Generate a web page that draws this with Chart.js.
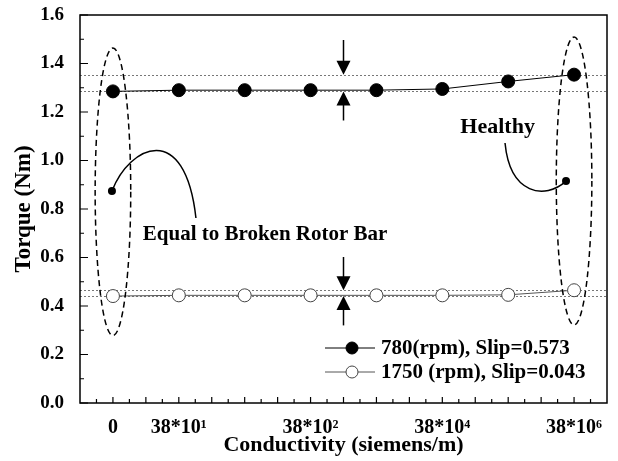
<!DOCTYPE html>
<html>
<head>
<meta charset="utf-8">
<script src="https://cdn.jsdelivr.net/npm/chart.js@4.4.0/dist/chart.umd.min.js"></script>
<style>
  html, body { margin: 0; padding: 0; background: #fff; }
  #wrap { width: 618px; height: 461px; }
</style>
</head>
<body>
<div id="wrap"><canvas id="torque"></canvas></div>
<script>
// values
const conductivityLabels = ['0', '38*10¹', '', '38*10²', '', '38*10⁴', '', '38*10⁶'];
const torque780 = [1.285, 1.29, 1.29, 1.29, 1.29, 1.295, 1.326, 1.354];
const torque1750 = [0.441, 0.444, 0.444, 0.444, 0.444, 0.444, 0.446, 0.465];
const seriesNames = ['780(rpm), Slip=0.573', '1750 (rpm), Slip=0.043'];

// dotted limit lines (torque values)
const bandLevels = [1.285, 1.354, 0.441, 0.465];

// annotation geometry in axis units (x = category index, y = torque)
const ellipses = [
  { x: 0, top: 1.464, bottom: 0.278, half: 0.27 },
  { x: 7, top: 1.509, bottom: 0.322, half: 0.27 }
];
const arrows = [
  { x: 3.5, from: 1.497, to: 1.354 },
  { x: 3.5, from: 1.165, to: 1.285 },
  { x: 3.5, from: 0.602, to: 0.465 },
  { x: 3.5, from: 0.320, to: 0.441 }
];
const callouts = [
  { text: 'Equal to Broken Rotor Bar', size: 21, at: [2.31, 0.693],
    curve: [[-0.015, 0.874], [0.258, 1.064], [1.093, 1.167], [1.26, 0.763]] },
  { text: 'Healthy', size: 22, at: [5.84, 1.138],
    curve: [[6.878, 0.915], [6.56, 0.837], [6.028, 0.858], [5.952, 1.072]] }
];

const serif = "'Liberation Serif', 'Times New Roman', serif";

const decorations = {
  id: 'decorations',
  beforeDatasetsDraw(chart) {
    const { ctx, chartArea: a, scales: { y } } = chart;
    ctx.save();
    ctx.strokeStyle = '#777';
    ctx.lineWidth = 1;
    ctx.setLineDash([2, 2]);
    bandLevels.forEach(v => {
      const py = Math.round(y.getPixelForValue(v)) + 0.5;
      ctx.beginPath();
      ctx.moveTo(a.left, py);
      ctx.lineTo(a.right, py);
      ctx.stroke();
    });
    ctx.restore();
  },
  afterDatasetsDraw(chart) {
    const { ctx, chartArea: a, scales: { x, y } } = chart;
    const px = v => x.getPixelForValue(v);
    const py = v => y.getPixelForValue(v);
    ctx.save();

    // dashed ellipses
    ctx.strokeStyle = '#000';
    ctx.lineWidth = 1.5;
    ctx.setLineDash([6, 4]);
    ellipses.forEach(e => {
      const cx = px(e.x), top = py(e.top), bot = py(e.bottom);
      const rx = Math.abs(px(e.x + e.half) - cx);
      ctx.beginPath();
      ctx.ellipse(cx, (top + bot) / 2, rx, (bot - top) / 2, 0, 0, Math.PI * 2);
      ctx.stroke();
    });
    ctx.setLineDash([]);

    // arrows
    ctx.fillStyle = '#000';
    arrows.forEach(ar => {
      const cx = px(ar.x), y0 = py(ar.from), y1 = py(ar.to);
      const dir = y1 > y0 ? 1 : -1;
      ctx.lineWidth = 1.5;
      ctx.beginPath();
      ctx.moveTo(cx, y0);
      ctx.lineTo(cx, y1 - dir * 12);
      ctx.stroke();
      ctx.beginPath();
      ctx.moveTo(cx, y1);
      ctx.lineTo(cx - 7, y1 - dir * 14);
      ctx.lineTo(cx + 7, y1 - dir * 14);
      ctx.closePath();
      ctx.fill();
    });

    // callouts
    ctx.textAlign = 'center';
    ctx.textBaseline = 'middle';
    callouts.forEach(c => {
      const p = c.curve.map(([cx, cy]) => [px(cx), py(cy)]);
      ctx.lineWidth = 1.5;
      ctx.beginPath();
      ctx.moveTo(p[0][0], p[0][1]);
      ctx.bezierCurveTo(p[1][0], p[1][1], p[2][0], p[2][1], p[3][0], p[3][1]);
      ctx.stroke();
      ctx.beginPath();
      ctx.arc(p[0][0], p[0][1], 4, 0, Math.PI * 2);
      ctx.fill();
      ctx.font = 'bold ' + c.size + 'px ' + serif;
      ctx.fillText(c.text, px(c.at[0]), py(c.at[1]));
    });

    // legend
    const lx = a.right - 282;
    const rows = [a.bottom - 55, a.bottom - 31];
    ctx.textAlign = 'left';
    ctx.font = 'bold 21px ' + serif;
    chart.data.datasets.forEach((ds, i) => {
      const ry = rows[i];
      ctx.strokeStyle = ds.borderColor;
      ctx.lineWidth = 1;
      ctx.beginPath();
      ctx.moveTo(lx, ry);
      ctx.lineTo(lx + 50, ry);
      ctx.stroke();
      ctx.beginPath();
      ctx.arc(lx + 27, ry, 6, 0, Math.PI * 2);
      ctx.fillStyle = ds.pointBackgroundColor;
      ctx.fill();
      ctx.strokeStyle = ds.pointBorderColor;
      ctx.stroke();
      ctx.fillStyle = '#000';
      ctx.fillText(ds.label, lx + 56, ry + 1);
    });

    // frame and inward ticks
    ctx.strokeStyle = '#000';
    ctx.lineWidth = 1.5;
    ctx.strokeRect(a.left, a.top, a.right - a.left, a.bottom - a.top);
    ctx.lineWidth = 1.2;
    ctx.beginPath();
    for (let i = 0; i <= 16; i++) {
      const ty = py(i * 0.1);
      const len = i % 2 === 0 ? 8 : 4;
      ctx.moveTo(a.left, ty);
      ctx.lineTo(a.left + len, ty);
    }
    for (let i = -2; i <= 30; i++) {
      const tx = px(i * 0.25);
      if (tx <= a.left + 1 || tx >= a.right - 1) continue;
      const len = i % 2 === 0 ? 6 : 4;
      ctx.moveTo(tx, a.bottom);
      ctx.lineTo(tx, a.bottom - len);
    }
    ctx.stroke();
    ctx.restore();
  }
};

new Chart(document.getElementById('torque'), {
  type: 'line',
  data: {
    labels: conductivityLabels,
    datasets: [
      {
        label: seriesNames[0],
        data: torque780,
        borderColor: '#000',
        borderWidth: 1,
        pointRadius: 6.5,
        pointBackgroundColor: '#000',
        pointBorderColor: '#000',
        pointBorderWidth: 1,
        tension: 0
      },
      {
        label: seriesNames[1],
        data: torque1750,
        borderColor: '#555',
        borderWidth: 1,
        pointRadius: 6.5,
        pointBackgroundColor: '#fff',
        pointBorderColor: '#444',
        pointBorderWidth: 1,
        tension: 0
      }
    ]
  },
  options: {
    responsive: true,
    maintainAspectRatio: false,
    animation: false,
    layout: { padding: { top: 15, right: 11, left: 0, bottom: 0 } },
    plugins: { legend: { display: false }, tooltip: { enabled: false } },
    scales: {
      x: {
        type: 'category',
        offset: true,
        grid: { display: false },
        border: { display: false },
        ticks: {
          color: '#000', autoSkip: false, maxRotation: 0, padding: 5,
          font: { family: serif, size: 20, weight: 'bold' }
        },
        title: {
          display: true, text: 'Conductivity (siemens/m)', color: '#000',
          font: { family: serif, size: 22, weight: 'bold' },
          padding: { top: 0, bottom: 2 }
        },
        afterFit(scale) { scale.height = 58; }
      },
      y: {
        min: 0,
        max: 1.6,
        grid: { display: false },
        border: { display: false },
        ticks: {
          stepSize: 0.2, color: '#000', padding: 8,
          callback: v => v.toFixed(1),
          font: { family: serif, size: 19, weight: 'bold' }
        },
        title: {
          display: true, text: 'Torque (Nm)', color: '#000',
          font: { family: serif, size: 23, weight: 'bold' },
          padding: { top: 10, bottom: 0 }
        },
        afterFit(scale) {
          scale.width = 80;
          scale.paddingTop = 0;
          scale.paddingBottom = 0;
        }
      }
    }
  },
  plugins: [decorations]
});
</script>
</body>
</html>
